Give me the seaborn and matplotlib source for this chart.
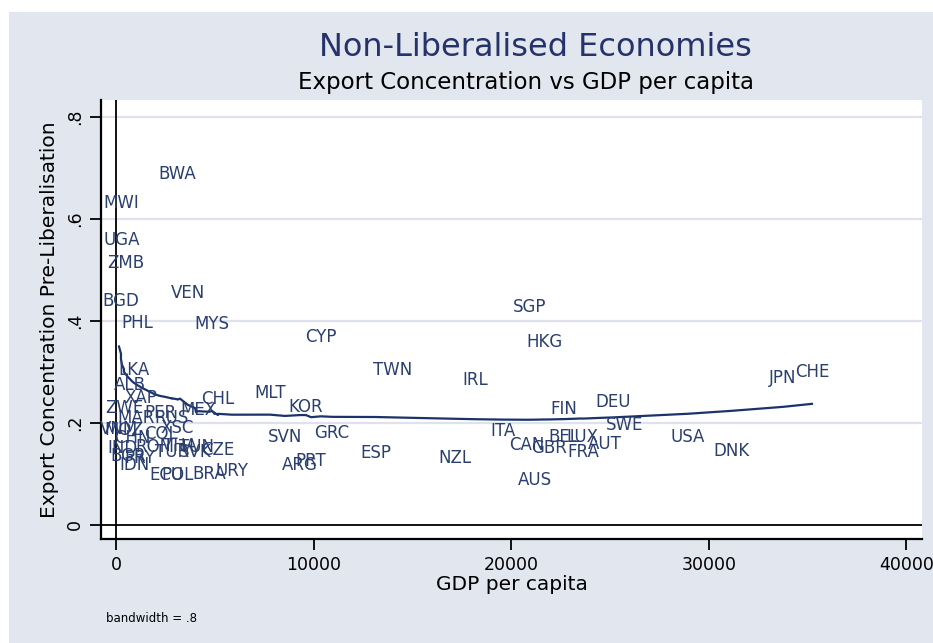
import numpy as np
import pandas as pd
import matplotlib
matplotlib.use("Agg")
import matplotlib.pyplot as plt
from matplotlib.patches import Rectangle
import seaborn as sns

# Country codes, GDP per capita and export concentration before liberalisation
countries = ["BWA", "MWI", "UGA", "ZMB", "BGD", "VEN", "PHL", "MYS", "CYP", "SGP",
             "HKG", "TWN", "IRL", "JPN", "CHE", "LKA", "ALB", "XAP", "CHL", "MLT",
             "KOR", "FIN", "DEU", "ZWE", "PER", "MEX", "SVN", "GRC", "ESP", "NZL",
             "ITA", "AUS", "CAN", "GBR", "BEL", "LUX", "FRA", "AUT", "SWE", "USA",
             "DNK", "ARG", "PRT", "MAR", "RUS", "XSC", "VNM", "MOZ", "CHN", "COL",
             "IND", "ROM", "THA", "TUN", "TUR", "SVK", "CZE", "BGR", "PRY", "IDN",
             "ECU", "POL", "BRA", "URY"]
gdp_pc = [3090, 250, 300, 510, 250, 3640, 1060, 4860, 10370, 20950,
          21660, 14020, 18170, 33750, 35220, 910, 710, 1270, 5160, 7790,
          9610, 22670, 25150, 400, 2230, 4150, 8550, 10930, 13160, 17150,
          19580, 21200, 20800, 21910, 22670, 23580, 23630, 24740, 25760, 28940,
          31170, 9310, 9870, 1010, 2830, 3090, 150, 400, 810, 2280,
          350, 1970, 3240, 4050, 2830, 4000, 5160, 610, 1210, 960,
          2530, 3140, 4700, 5870]
export_conc = [0.688, 0.631, 0.559, 0.514, 0.439, 0.455, 0.396, 0.394, 0.369, 0.427,
               0.359, 0.304, 0.284, 0.288, 0.300, 0.304, 0.275, 0.249, 0.247, 0.259,
               0.231, 0.227, 0.241, 0.229, 0.220, 0.225, 0.173, 0.180, 0.141, 0.131,
               0.184, 0.088, 0.157, 0.151, 0.173, 0.173, 0.143, 0.159, 0.196, 0.173,
               0.145, 0.118, 0.125, 0.210, 0.210, 0.190, 0.188, 0.186, 0.171, 0.178,
               0.151, 0.153, 0.155, 0.153, 0.143, 0.143, 0.147, 0.135, 0.131, 0.118,
               0.098, 0.098, 0.100, 0.106]

x_ticks = [0, 10000, 20000, 30000, 40000]
y_ticks = [0, 0.2, 0.4, 0.6, 0.8]
y_tick_labels = ["0", ".2", ".4", ".6", ".8"]
bandwidth = 0.8

df = pd.DataFrame({"country": countries, "gdp": gdp_pc, "conc": export_conc})


def running_line_lowess(x, y, bw):
    """Locally weighted linear smoother with a symmetric rank window and tricube weights."""
    order = np.argsort(x, kind="mergesort")
    xs = np.asarray(x, float)[order]
    ys = np.asarray(y, float)[order]
    n = len(xs)
    k = int(np.floor((n * bw - 0.5) / 2))
    fit = np.empty(n)
    for i in range(n):
        lo, hi = max(0, i - k), min(n - 1, i + k)
        xw, yw = xs[lo:hi + 1], ys[lo:hi + 1]
        delta = 1.0001 * max(xs[hi] - xs[i], xs[i] - xs[lo])
        w = (1 - (np.abs(xw - xs[i]) / delta) ** 3) ** 3
        sw = w.sum()
        xm, ym = (w * xw).sum() / sw, (w * yw).sum() / sw
        sxx = (w * (xw - xm) ** 2).sum()
        b = (w * (xw - xm) * (yw - ym)).sum() / sxx if sxx > 0 else 0.0
        fit[i] = ym + b * (xs[i] - xm)
    return xs, fit


sx, sy = running_line_lowess(df["gdp"].values, df["conc"].values, bandwidth)
smooth = pd.DataFrame({"gdp": sx, "fit": sy})

W, H = 933, 643
fig = plt.figure(figsize=(W / 100, H / 100), dpi=100, facecolor="white")
fig.patches.append(Rectangle((9 / W, 0), 1 - 9 / W, (H - 12) / H, transform=fig.transFigure,
                             facecolor="#e1e6ef", edgecolor="none", zorder=-10))

ax = fig.add_axes([101 / W, (H - 539) / H, (922 - 101) / W, (539 - 100) / H])
ax.set_facecolor("white")

navy = "#2a3f70"
font = "DejaVu Sans"

ax.set_xlim(-760, 40790)
ax.set_ylim(-0.0275, 0.833)

for yv in y_ticks[1:]:
    ax.axhline(yv, color="#dde2ec", lw=1.6, zorder=1)
ax.axhline(0, color="black", lw=1.3, zorder=2)
ax.axvline(0, color="black", lw=1.3, zorder=2)

sns.lineplot(data=smooth, x="gdp", y="fit", ax=ax, color="#1b3369", lw=1.6,
             sort=False, estimator=None, zorder=4)

for _, r in df.iterrows():
    ax.text(r["gdp"], r["conc"], r["country"], ha="center", va="center",
            fontsize=12, color=navy, family=font, zorder=5)

for s in ["top", "right"]:
    ax.spines[s].set_visible(False)
for s in ["left", "bottom"]:
    ax.spines[s].set_color("black")
    ax.spines[s].set_linewidth(1.6)

ax.set_xticks(x_ticks)
ax.set_xticklabels([str(v) for v in x_ticks], family=font, fontsize=12.5)
ax.set_yticks(y_ticks)
ax.set_yticklabels(y_tick_labels, family=font, fontsize=12.5, rotation=90, va="center")
ax.tick_params(axis="both", length=8, width=1.3, color="black", pad=4)

ax.set_xlabel("GDP per capita", family=font, fontsize=14.5, labelpad=1)
ax.set_ylabel("Export Concentration Pre-Liberalisation", family=font, fontsize=14.5,
              labelpad=5)

fig.text(535 / W, 1 - 47 / H, "Non-Liberalised Economies", ha="center", va="center",
         fontsize=23, color="#25336a", family=font)
fig.text(526 / W, 1 - 82 / H, "Export Concentration vs GDP per capita", ha="center",
         va="center", fontsize=16.5, color="black", family=font)
fig.text(106 / W, 1 - 618 / H, "bandwidth = .8", ha="left", va="center",
         fontsize=8.5, color="black", family=font)

fig.savefig("out.png", dpi=100, facecolor=fig.get_facecolor())
